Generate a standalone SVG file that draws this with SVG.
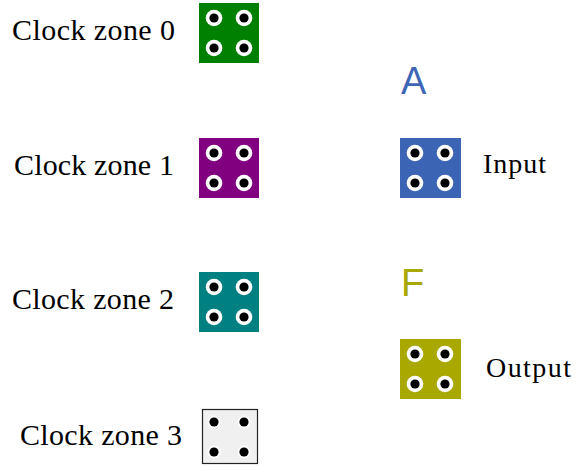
<svg xmlns="http://www.w3.org/2000/svg" width="577" height="467" viewBox="0 0 577 467">
<style>
.lbl{font-family:"Liberation Serif","Times New Roman",serif;font-size:30px;fill:#000}
.io{font-family:"Liberation Serif","Times New Roman",serif;font-size:28px;fill:#000}
.big{font-family:"Liberation Sans",Arial,sans-serif;font-size:38px}
.ring{fill:#fff}
.dot{fill:#000}
</style>
<defs>
<g id="dots">
<circle class="ring" cx="15" cy="15" r="8.3"/><circle class="dot" cx="15" cy="15" r="4.6"/>
<circle class="ring" cx="45" cy="15" r="8.3"/><circle class="dot" cx="45" cy="15" r="4.6"/>
<circle class="ring" cx="15" cy="45" r="8.3"/><circle class="dot" cx="15" cy="45" r="4.6"/>
<circle class="ring" cx="45" cy="45" r="8.3"/><circle class="dot" cx="45" cy="45" r="4.6"/>
</g>
</defs>
<g id="zone0">
<rect x="199" y="3" width="60" height="60" fill="#008000"/>
<use href="#dots" x="199" y="3"/>
<text class="lbl" x="12" y="40" textLength="163">Clock zone 0</text>
</g>
<g id="zone1">
<rect x="199" y="138" width="60" height="60" fill="#800080"/>
<use href="#dots" x="199" y="138"/>
<text class="lbl" x="14" y="175" textLength="160">Clock zone 1</text>
</g>
<g id="zone2">
<rect x="199" y="272" width="60" height="60" fill="#008080"/>
<use href="#dots" x="199" y="272"/>
<text class="lbl" x="12" y="309" textLength="162">Clock zone 2</text>
</g>
<g id="zone3">
<rect x="202.5" y="409.5" width="55" height="54" fill="#f0f0f0" stroke="#222" stroke-width="1.2"/>
<g fill="#fff">
<circle cx="214" cy="422" r="6.5"/><circle cx="244" cy="422" r="6.5"/>
<circle cx="214" cy="452" r="6.5"/><circle cx="244" cy="452" r="6.5"/>
</g>
<g fill="#000">
<circle cx="214" cy="422" r="4.6"/><circle cx="244" cy="422" r="4.6"/>
<circle cx="214" cy="452" r="4.6"/><circle cx="244" cy="452" r="4.6"/>
</g>
<text class="lbl" x="20" y="445" textLength="162">Clock zone 3</text>
</g>
<g id="input">
<text class="big" x="401" y="94" fill="#3e66b6">A</text>
<rect x="400" y="138" width="61" height="60" fill="#3c64b4"/>
<use href="#dots" x="400" y="138"/>
<text class="io" x="483" y="173" textLength="63">Input</text>
</g>
<g id="output">
<text class="big" x="401" y="296" fill="#a8a800">F</text>
<rect x="400" y="339" width="61" height="60" fill="#a8a800"/>
<use href="#dots" x="400" y="339"/>
<text class="io" x="486" y="377" textLength="85">Output</text>
</g>
<g id="connectors"/>
</svg>
